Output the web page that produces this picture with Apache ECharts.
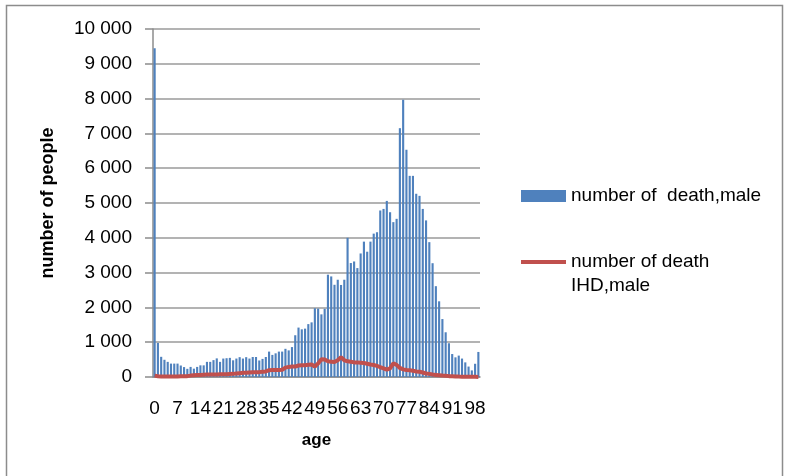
<!DOCTYPE html>
<html>
<head>
<meta charset="utf-8">
<script src="https://cdn.jsdelivr.net/npm/echarts@6/dist/echarts.min.js"></script>
<style>
html,body{margin:0;padding:0;background:#fff;}
#chart{width:785px;height:476px;}
</style>
</head>
<body>
<div id="chart"></div>
<script>
// Categories: age 0..99
var ages = [
  0,1,2,3,4,5,6,7,8,9,10,11,12,13,14,15,16,17,18,19,
  20,21,22,23,24,25,26,27,28,29,30,31,32,33,34,35,36,37,38,39,
  40,41,42,43,44,45,46,47,48,49,50,51,52,53,54,55,56,57,58,59,
  60,61,62,63,64,65,66,67,68,69,70,71,72,73,74,75,76,77,78,79,
  80,81,82,83,84,85,86,87,88,89,90,91,92,93,94,95,96,97,98,99
];

// number of death, male
var deathMale = [
  9450,980,580,495,435,385,385,385,330,285,
  235,290,240,290,335,335,435,435,485,535,
  435,530,540,550,480,530,570,530,570,530,
  575,575,475,520,575,730,635,680,730,730,
  810,765,860,1200,1420,1370,1390,1520,1570,1975,
  1965,1800,1960,2940,2890,2650,2795,2645,2795,4000,
  3275,3320,3130,3550,3890,3600,3890,4120,4160,4785,
  4830,5060,4735,4450,4545,7150,7970,6530,5780,5780,
  5265,5205,4830,4500,3875,3270,2610,2175,1665,1285,
  970,660,565,615,530,420,300,190,380,720
];

// number of death IHD, male
var ihdMale = [
  40,20,15,15,15,15,15,15,20,20,
  25,40,50,60,60,65,70,70,75,75,
  80,80,80,85,90,100,110,120,125,130,
  135,140,140,150,160,195,200,200,200,210,
  270,290,300,300,330,340,340,350,360,300,
  390,510,500,450,440,430,480,570,480,450,
  440,420,420,410,400,380,360,345,320,280,
  250,210,250,390,350,260,220,200,195,180,
  160,150,130,100,90,70,60,50,40,35,
  25,20,15,12,10,8,6,5,4,3
];

var yTicks = { min: 0, max: 10000, interval: 1000 };

var barName = 'number of  death,male';
var lineName = 'number of death IHD,male';
var lineLegendLine1 = 'number of death';
var lineLegendLine2 = 'IHD,male';
var fontFam = '"Liberation Sans", Arial, sans-serif';

function fmtThousands(v) {
  return String(v).replace(/\B(?=(\d{3})+(?!\d))/g, ' ');
}

var chart = echarts.init(document.getElementById('chart'), null, { renderer: 'canvas' });
chart.setOption({
  animation: false,
  backgroundColor: '#ffffff',
  textStyle: { fontFamily: fontFam },
  graphic: [{
    type: 'rect',
    shape: { x: 6.5, y: 5.5, width: 776, height: 520 },
    style: { fill: 'none', stroke: '#8c8c8c', lineWidth: 1.5 },
    silent: true
  }, {
    type: 'text',
    left: 571, top: 276,
    style: { text: lineLegendLine2, fill: '#000', fontSize: 19, fontFamily: fontFam },
    silent: true
  }],
  grid: { left: 153, right: 305, top: 29, bottom: 99, containLabel: false },
  legend: [{
    data: [{ name: barName, icon: 'rect' }],
    left: 521, top: 184, padding: 0,
    itemWidth: 45, itemHeight: 12, itemGap: 5,
    textStyle: { fontSize: 19, lineHeight: 24, color: '#000', fontFamily: fontFam },
    selectedMode: false
  }, {
    data: [{ name: lineName, icon: 'rect' }],
    left: 521, top: 250, padding: 0,
    itemWidth: 45, itemHeight: 4, itemGap: 5,
    formatter: function () { return lineLegendLine1; },
    textStyle: { fontSize: 19, lineHeight: 24, color: '#000', fontFamily: fontFam },
    selectedMode: false
  }],
  xAxis: {
    type: 'category',
    data: ages,
    boundaryGap: true,
    name: 'age',
    nameLocation: 'middle',
    nameGap: 55,
    nameTextStyle: { fontSize: 17, fontWeight: 'bold', color: '#000', fontFamily: fontFam },
    axisLine: { show: true, lineStyle: { color: '#8c8c8c', width: 1.5 } },
    axisTick: { show: false },
    axisLabel: { interval: 6, margin: 22, fontSize: 19, color: '#000', fontFamily: fontFam, hideOverlap: false },
    splitLine: { show: false }
  },
  yAxis: {
    type: 'value',
    min: yTicks.min, max: yTicks.max, interval: yTicks.interval,
    name: 'number of people',
    nameLocation: 'middle',
    nameRotate: 90,
    nameGap: 96,
    nameTextStyle: { fontSize: 18, fontWeight: 'bold', color: '#000', fontFamily: fontFam },
    axisLine: { show: true, lineStyle: { color: '#8c8c8c', width: 1.5 } },
    axisTick: { show: true, inside: false, length: 8, lineStyle: { color: '#8c8c8c', width: 1.5 } },
    axisLabel: { margin: 21, fontSize: 19, color: '#000', fontFamily: fontFam, formatter: fmtThousands },
    splitLine: { show: true, lineStyle: { color: '#9a9a9a', width: 1.5 } }
  },
  series: [{
    name: barName,
    type: 'bar',
    data: deathMale,
    barCategoryGap: '35%',
    itemStyle: { color: '#4F81BD' },
    z: 2
  }, {
    name: lineName,
    type: 'line',
    data: ihdMale,
    showSymbol: false,
    symbol: 'none',
    lineStyle: { color: '#C0504D', width: 4 },
    itemStyle: { color: '#C0504D' },
    z: 3
  }]
});
</script>
</body>
</html>
